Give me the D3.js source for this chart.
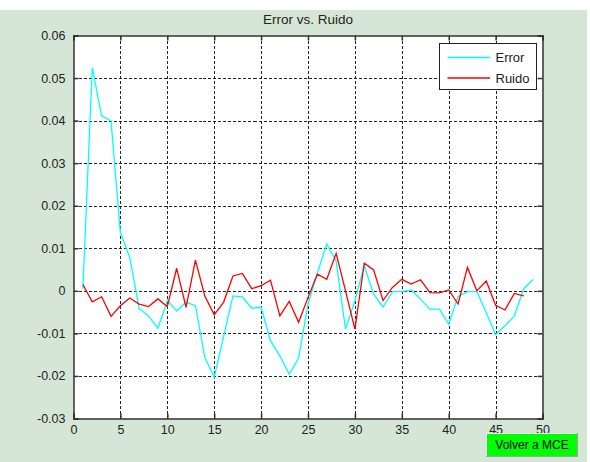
<!DOCTYPE html>
<html>
<head>
<meta charset="utf-8">
<script src="https://cdn.jsdelivr.net/npm/d3@7"></script>
<style>
  html, body { margin: 0; padding: 0; background: #ffffff; }
  svg { display: block; }
  text { font-family: "Liberation Sans", Arial, sans-serif; }
</style>
</head>
<body>
<svg id="chart" width="590" height="462"></svg>
<script>
// Error and noise samples, one per iteration (1..49 and 1..48)
const errorValues = [
  0.0005, 0.0524, 0.0411, 0.0399, 0.0137, 0.0078, -0.0042, -0.0059, -0.0088, -0.0023,
  -0.0047, -0.0027, -0.0035, -0.0157, -0.0203, -0.0108, -0.0012, -0.0014, -0.0041, -0.0038,
  -0.0117, -0.0153, -0.0196, -0.0158, -0.0031, 0.0042, 0.0110, 0.0070, -0.0090, -0.0023,
  0.0059, -0.0008, -0.0038, -0.0002, -0.0002, 0.0002, -0.0020, -0.0043, -0.0043, -0.0078,
  -0.0013, -0.0002, -0.0002, -0.0051, -0.0103, -0.0082, -0.0059, 0.0005, 0.0027
];
const noiseValues = [
  0.0015, -0.0026, -0.0014, -0.0060, -0.0035, -0.0017, -0.0031, -0.0037, -0.0019, -0.0037,
  0.0053, -0.0039, 0.0072, -0.0012, -0.0056, -0.0027, 0.0035, 0.0041, 0.0005, 0.0012,
  0.0025, -0.0059, -0.0025, -0.0074, -0.0016, 0.0039, 0.0027, 0.0088, 0.0000, -0.0090,
  0.0065, 0.0049, -0.0023, 0.0008, 0.0027, 0.0016, 0.0026, -0.0004, -0.0005, 0.0002,
  -0.0031, 0.0055, 0.0000, 0.0023, -0.0034, -0.0045, -0.0006, -0.0012
];
const xTicks = [0, 5, 10, 15, 20, 25, 30, 35, 40, 45, 50];
const yTicks = [-0.03, -0.02, -0.01, 0, 0.01, 0.02, 0.03, 0.04, 0.05, 0.06];
const yTickLabels = ["-0.03", "-0.02", "-0.01", "0", "0.01", "0.02", "0.03", "0.04", "0.05", "0.06"];
const seriesNames = ["Error", "Ruido"];
const seriesColors = ["#00ffff", "#ff0000"];
const titleText = "Error vs. Ruido";
const buttonText = "Volver a MCE";

const svg = d3.select("#chart");

// figure background
svg.append("rect")
  .attr("x", 0).attr("y", 10).attr("width", 587).attr("height", 452)
  .attr("fill", "#d6e6d6");

const plotLeft = 73.5, plotRight = 542.5, plotTop = 35.5, plotBottom = 418.5;

const x = d3.scaleLinear().domain([0, 50]).range([plotLeft, plotRight]);
const y = d3.scaleLinear().domain([-0.03, 0.06]).range([plotBottom, plotTop]);

// plot area
svg.append("rect")
  .attr("x", plotLeft).attr("y", plotTop)
  .attr("width", plotRight - plotLeft).attr("height", plotBottom - plotTop)
  .attr("fill", "#ffffff");

// grid
const grid = svg.append("g")
  .attr("stroke", "#222")
  .attr("stroke-width", 1)
  .attr("stroke-dasharray", "3,2")
  .attr("shape-rendering", "crispEdges");
grid.selectAll("line.gx")
  .data(xTicks.filter(d => d > 0 && d < 50))
  .join("line").attr("class", "gx")
  .attr("x1", d => Math.round(x(d)) + 0.5).attr("x2", d => Math.round(x(d)) + 0.5)
  .attr("y1", plotTop).attr("y2", plotBottom);
grid.selectAll("line.gy")
  .data(yTicks.filter(d => d > -0.03 && d < 0.06))
  .join("line").attr("class", "gy")
  .attr("y1", d => Math.round(y(d)) + 0.5).attr("y2", d => Math.round(y(d)) + 0.5)
  .attr("x1", plotLeft).attr("x2", plotRight);

// axes with inward ticks
const axisColor = "#333";
const xAxis = d3.axisBottom(x).tickValues(xTicks).tickSize(-5).tickPadding(7).tickFormat(d3.format("d"));
const xTop = d3.axisTop(x).tickValues(xTicks).tickSize(-5).tickFormat("");
const yAxis = d3.axisLeft(y).tickValues(yTicks).tickSize(-5).tickPadding(8)
  .tickFormat((d, i) => yTickLabels[i]);
const yRight = d3.axisRight(y).tickValues(yTicks).tickSize(-5).tickFormat("");

function styleAxis(g) {
  g.select(".domain").attr("stroke", axisColor).attr("stroke-width", 1.5);
  g.selectAll(".tick line").attr("stroke", axisColor).attr("stroke-width", 1.5);
  g.selectAll(".tick text").attr("fill", "#222").attr("font-size", 12.5)
    .attr("font-family", "'Liberation Sans', Arial, sans-serif");
}
svg.append("g").attr("transform", `translate(0,${plotBottom})`).call(xAxis).call(styleAxis);
svg.append("g").attr("transform", `translate(0,${plotTop})`).call(xTop).call(styleAxis);
svg.append("g").attr("transform", `translate(${plotLeft},0)`).call(yAxis).call(styleAxis);
svg.append("g").attr("transform", `translate(${plotRight},0)`).call(yRight).call(styleAxis);

// series lines
const line = d3.line().x((d, i) => x(i + 1)).y(d => y(d));
[errorValues, noiseValues].forEach((vals, k) => {
  svg.append("path")
    .datum(vals)
    .attr("fill", "none")
    .attr("stroke", seriesColors[k])
    .attr("stroke-width", 1.3)
    .attr("stroke-linejoin", "miter")
    .attr("d", line);
});

// title
svg.append("text")
  .attr("x", (plotLeft + plotRight) / 2).attr("y", 24)
  .attr("text-anchor", "middle")
  .attr("font-size", 13.5).attr("fill", "#222")
  .text(titleText);

// legend
const lg = svg.append("g").attr("transform", "translate(439.5,43.5)");
lg.append("rect").attr("width", 97).attr("height", 46)
  .attr("fill", "#ffffff").attr("stroke", "#222").attr("stroke-width", 1);
seriesNames.forEach((name, i) => {
  const yy = 14 + i * 20.5;
  lg.append("line").attr("x1", 8).attr("x2", 50.5).attr("y1", yy).attr("y2", yy)
    .attr("stroke", seriesColors[i]).attr("stroke-width", 1.3);
  lg.append("text").attr("x", 56).attr("y", yy + 4.5)
    .attr("font-size", 13).attr("fill", "#222").text(name);
});

// button
const btn = svg.append("g").attr("transform", "translate(486,433)");
btn.append("rect").attr("width", 92).attr("height", 24).attr("fill", "#a0a0a0");
btn.append("rect").attr("width", 91).attr("height", 23).attr("fill", "#ffffff");
btn.append("rect").attr("x", 1).attr("y", 1).attr("width", 90).attr("height", 22).attr("fill", "#00ff00");
btn.append("text").attr("x", 46).attr("y", 16).attr("text-anchor", "middle")
  .attr("font-size", 12).attr("fill", "#000").text(buttonText);
</script>
</body>
</html>
